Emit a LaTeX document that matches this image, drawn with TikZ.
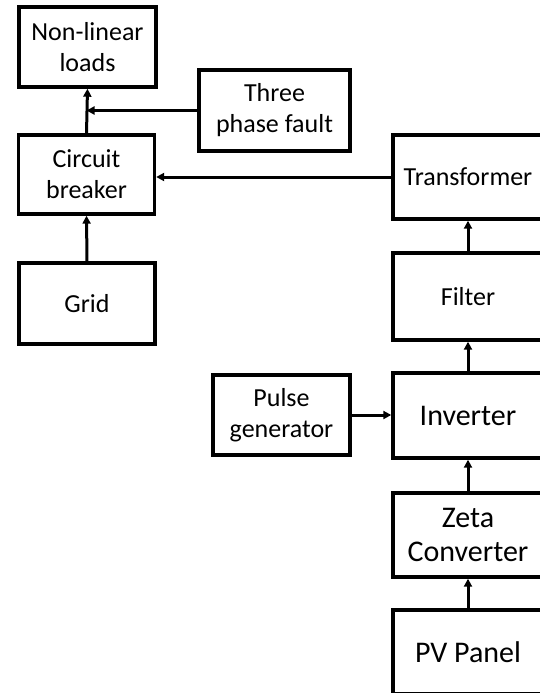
\documentclass[tikz,border=0pt]{standalone}
\usepackage{fontspec}
\setmainfont{Carlito}
\usetikzlibrary{arrows.meta}

\begin{document}
\begin{tikzpicture}[x=1pt,y=-1pt,
  blk/.style={draw,line width=3.4pt,rectangle,align=center,inner sep=2pt,font=\fontsize{26}{31}\selectfont},
  big/.style={font=\fontsize{30}{34}\selectfont},
  flow/.style={line width=3pt,-{Triangle[length=8pt,width=8pt]}}]
\useasboundingbox (0,0) rectangle (540,693);
\clip (0,0) rectangle (540,693);
% left column
\node[blk,minimum width=137pt,minimum height=80pt] (loads) at (87.5,47){Non-linear\\loads};
\node[blk,minimum width=151pt,minimum height=81pt] (fault) at (274.5,110.5){Three\\phase fault};
\node[blk,minimum width=136pt,minimum height=79pt] (cb) at (86.5,174.5){Circuit\\breaker};
\node[blk,minimum width=136pt,minimum height=81pt] (grid) at (87,303.5){Grid};
\node[blk,minimum width=137pt,minimum height=80pt] (pulse) at (281.5,415){Pulse\\generator};
% right column
\node[blk,minimum width=150pt,minimum height=84pt] (trafo) at (468,177){Transformer};
\node[blk,minimum width=150pt,minimum height=87pt] (filter) at (468,296.5){Filter};
\node[blk,big,minimum width=150pt,minimum height=85pt] (inv) at (468,415.5){Inverter};
\node[blk,big,minimum width=150pt,minimum height=84pt] (zeta) at (468,535){Zeta\\Converter};
\node[blk,big,minimum width=150pt,minimum height=84pt] (pv) at (468,652){PV Panel};
% connectors
\draw[flow] (cb.north)--(loads.south);
\draw[flow] (fault.west)--(fault.west-|cb.north);
\draw[flow] (trafo.west)--(trafo.west-|cb.east);
\draw[flow] (grid.north)--(cb.south);
\draw[flow] (pulse.east)--(pulse.east-|inv.west);
\draw[flow] (filter.north)--(trafo.south);
\draw[flow] (inv.north)--(filter.south);
\draw[flow] (zeta.north)--(inv.south);
\draw[flow] (pv.north)--(zeta.south);
\end{tikzpicture}
\end{document}
